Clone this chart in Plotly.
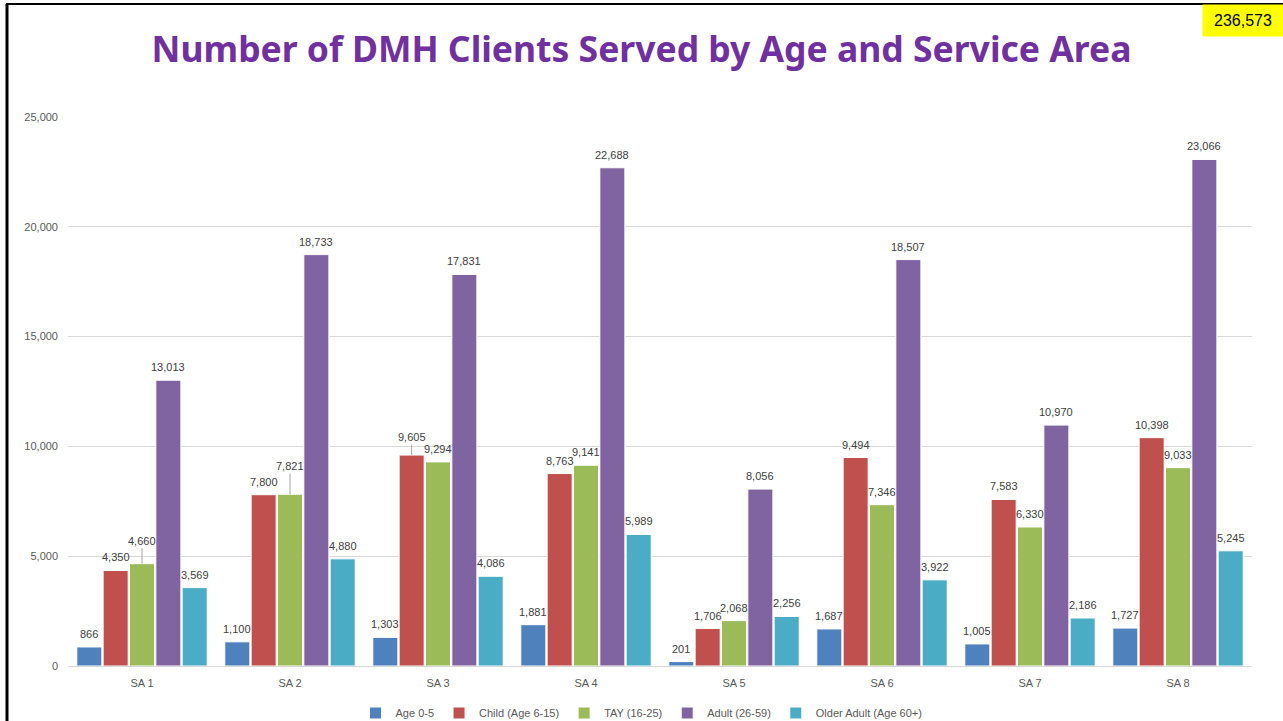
import plotly.graph_objects as go

areas = ["SA 1", "SA 2", "SA 3", "SA 4", "SA 5", "SA 6", "SA 7", "SA 8"]
series_names = ["Age 0-5", "Child (Age 6-15)", "TAY (16-25)", "Adult (26-59)", "Older Adult (Age 60+)"]
age_0_5 = [866, 1100, 1303, 1881, 201, 1687, 1005, 1727]
child_6_15 = [4350, 7800, 9605, 8763, 1706, 9494, 7583, 10398]
tay_16_25 = [4660, 7821, 9294, 9141, 2068, 7346, 6330, 9033]
adult_26_59 = [13013, 18733, 17831, 22688, 8056, 18507, 10970, 23066]
older_60 = [3569, 4880, 4086, 5989, 2256, 3922, 2186, 5245]
total_clients = 236573
title_text = "Number of DMH Clients Served by Age and Service Area"

colors = ["#4F81BD", "#C0504D", "#9BBB59", "#8064A2", "#4BACC6"]
all_series = [age_0_5, child_6_15, tay_16_25, adult_26_59, older_60]

# labels raised with leader lines in the original: (series index, area index) -> pixel lift
raised = {(2, 0): 23, (2, 1): 28, (1, 2): 18}

L, R, T, B = 68, 31, 117, 55
W, H = 1283, 721
pw, ph = W - L - R, H - T - B
bargap = 0.11
ncat = len(areas)
cat_px = pw / ncat
bar_pitch = cat_px * (1 - bargap) / len(all_series)

def px_x(x):
    return (x - L) / pw

def px_y(y):
    return (H - B - y) / ph

label_font = dict(size=11, color="#404040", family="Liberation Sans")

fig = go.Figure()
annotations = []
for si, (name, vals, col) in enumerate(zip(series_names, all_series, colors)):
    fig.add_trace(go.Bar(
        name=name, x=areas, y=vals, marker=dict(color=col, line=dict(color="white", width=1)),
        hoverinfo="x+y+name",
    ))
    for ai, v in enumerate(vals):
        key = (si, ai)
        if key in raised:
            annotations.append(dict(
                x=areas[ai], y=v, xref="x", yref="y", text=f"{v:,}",
                xshift=(si - 2) * bar_pitch, showarrow=True, arrowhead=0, arrowwidth=1,
                arrowcolor="#A6A6A6", ax=0, ay=-raised[key], standoff=0, font=label_font,
            ))
        else:
            annotations.append(dict(
                x=areas[ai], y=v, xref="x", yref="y", text=f"{v:,}",
                xshift=(si - 2) * bar_pitch, yshift=13, showarrow=False,
                xanchor="center", yanchor="middle", font=label_font,
            ))

annotations.append(dict(
    x=px_x(1243), y=px_y(20.5), xref="paper", yref="paper", text=f"{total_clients:,}",
    showarrow=False, bgcolor="#FFFF00", width=78, height=29,
    font=dict(size=16, color="black", family="Liberation Sans"),
    xanchor="center", yanchor="middle",
))

shapes = [
    dict(type="line", xref="paper", yref="paper", x0=px_x(7), x1=px_x(7), y0=px_y(721), y1=px_y(4),
         line=dict(color="black", width=3)),
    dict(type="line", xref="paper", yref="paper", x0=px_x(6), x1=px_x(1283), y0=px_y(4), y1=px_y(4),
         line=dict(color="black", width=2)),
]

fig.update_layout(
    width=W, height=H,
    margin=dict(l=L, r=R, t=T, b=B, autoexpand=False),
    paper_bgcolor="white", plot_bgcolor="white",
    barmode="group", bargap=bargap, bargroupgap=0.05,
    title=dict(text=f"<b>{title_text}</b>", x=0.5, xref="container", xanchor="center",
               y=1 - 50 / H, yref="container", yanchor="middle",
               font=dict(size=35.5, color="#7030A0", family="Noto Sans")),
    font=dict(family="Liberation Sans", size=11, color="#595959"),
    xaxis=dict(showgrid=False, showline=True, linecolor="#D9D9D9", linewidth=1, ticks="",
               automargin=False, ticklabelstandoff=7, tickfont=dict(size=11, color="#595959")),
    yaxis=dict(range=[0, 25000], dtick=5000, tickformat=",", showgrid=True, gridcolor="#D9D9D9",
               gridwidth=1, zeroline=False, showline=False, ticks="", ticklen=0, automargin=False,
               ticklabelstandoff=9, tickfont=dict(size=11, color="#595959")),
    legend=dict(orientation="h", x=0.5, xref="container", xanchor="center", y=8 / H, yref="container",
                yanchor="middle", font=dict(size=11, color="#595959"), itemwidth=30),
    annotations=annotations,
    shapes=shapes,
    showlegend=True,
)

fig.write_html("out.html", config={"displayModeBar": False},
               post_script="document.body.style.margin='0px';document.body.style.overflow='hidden';")
